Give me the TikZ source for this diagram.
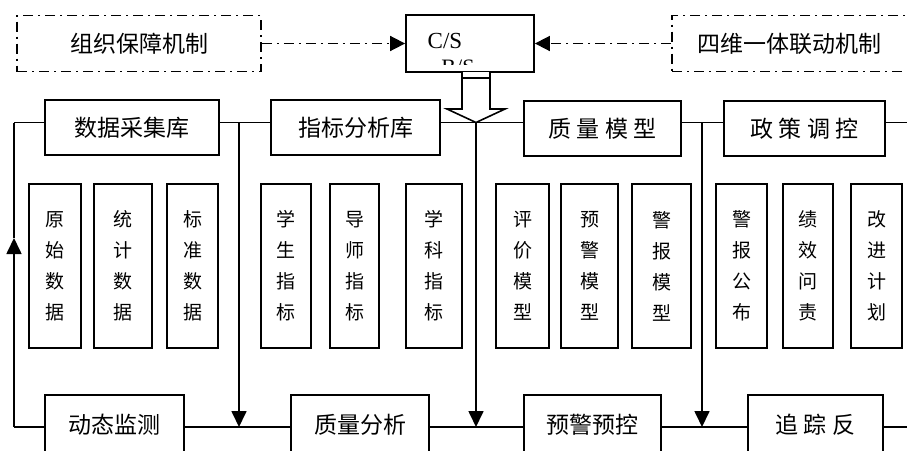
\documentclass[tikz,border=0pt]{standalone}
\usepackage{fontspec}
\setmainfont{Liberation Serif}
\newfontfamily\cjk{Noto Sans CJK SC}
\usetikzlibrary{arrows.meta,calc}
\begin{document}
\begin{tikzpicture}[x=1pt,y=-1pt,
  box/.style={draw,line width=1.8pt,inner sep=0pt,font=\cjk\fontsize{23}{27}\selectfont},
  vbox/.style={draw,line width=1.8pt,inner sep=0pt,minimum height=164pt,align=center,font=\cjk\fontsize{19}{31}\selectfont},
  ddbox/.style={draw,line width=1.8pt,dash pattern=on 10pt off 5pt on 2pt off 5pt,inner sep=0pt,minimum height=56pt,font=\cjk\fontsize{23}{27}\selectfont},
  conn/.style={line width=1.7pt},
  tipline/.style={conn,-{Triangle[length=16pt,width=15pt]}},
  ddarrow/.style={line width=1.7pt,dash pattern=on 10pt off 5pt on 2pt off 5pt,-{Triangle[length=15pt,width=15pt]}}
]
\useasboundingbox (0,0) rectangle (907,450);

% top dashed boxes and C/S
\node[ddbox,minimum width=244pt] (org) at (139,43.5) {组织保障机制};
\node[ddbox,minimum width=250pt] (four) at (797,43.5) {四维一体联动机制\hspace*{16pt}};
\node[draw,line width=1.8pt,minimum width=128pt,minimum height=57pt,inner sep=0pt] (cs) at (470,43.5) {};
\node[font=\fontsize{23}{27}\selectfont,anchor=base,inner sep=0pt] (cstext) at (445,48) {C/S};
\begin{scope}
  \clip ($(cs.north west)+(1,1)$) rectangle ($(cs.east)+(-1,20.5)$);
  \node[font=\fontsize{22}{26}\selectfont,anchor=north,inner sep=0pt] (bstext) at (458,60) {B/S};
\end{scope}
\draw[ddarrow] (org.east) -- (cs.west);
\draw[ddarrow] (four.west) -- (cs.east);

% top row
\node[box,minimum width=174pt,minimum height=55pt] (d1) at (132,127.5) {数据采集库};
\node[box,minimum width=169pt,minimum height=55pt] (d2) at (355.5,127.5) {指标分析库};
\node[box,minimum width=157pt,minimum height=55pt] (d3) at (602.5,128.5) {质 量 模 型};
\node[box,minimum width=161pt,minimum height=55pt] (d4) at (804.5,128.5) {政 策 调 控};

% bottom row
\node[box,minimum width=139pt,minimum height=60pt] (b1) at (114.5,425) {动态监测};
\node[box,minimum width=138pt,minimum height=60pt] (b2) at (360,425) {质量分析};
\node[box,minimum width=137pt,minimum height=60pt] (b3) at (592.5,425) {预警预控};
\node[box,minimum width=135pt,minimum height=60pt] (b4) at (815.5,425) {追 踪 反};

% vertical boxes
\node[vbox,minimum width=52pt] (v1) at (55,266) {原\\始\\数\\据};
\node[vbox,minimum width=58pt] (v2) at (123,266) {统\\计\\数\\据};
\node[vbox,minimum width=51pt] (v3) at (192.5,266) {标\\准\\数\\据};
\node[vbox,minimum width=50pt] (v4) at (286,266) {学\\生\\指\\标};
\node[vbox,minimum width=49pt] (v5) at (354.5,266) {导\\师\\指\\标};
\node[vbox,minimum width=56pt] (v6) at (434,266) {学\\科\\指\\标};
\node[vbox,minimum width=53pt] (v7) at (522.5,266) {评\\价\\模\\型};
\node[vbox,minimum width=57pt] (v8) at (589.5,266) {预\\警\\模\\型};
\node[vbox,minimum width=59pt] (v9) at (661.5,266) {警\\报\\模\\型};
\node[vbox,minimum width=51pt] (v10) at (741.5,266) {警\\报\\公\\布};
\node[vbox,minimum width=50pt] (v11) at (808,266) {绩\\效\\问\\责};
\node[vbox,minimum width=51pt] (v12) at (876.5,266) {改\\进\\计\\划};

% bus coordinates
\coordinate (tl) at (14,122.5);
\coordinate (tr) at (907,122.5);
\coordinate (bl) at (14,427);
\coordinate (br) at (907,427);
\coordinate (lm) at (14,238);
\coordinate (j1) at (239,122.5);
\coordinate (ht) at (476,122.5);
\coordinate (j3) at (702,122.5);

% top bus
\draw[conn] (tl -| d1.west) -- (tl);
\draw[conn] (d1.east |- tl) -- (d2.west |- tl);
\draw[conn] (d2.east |- tl) -- (d3.west |- tl);
\draw[conn] (d3.east |- tl) -- (d4.west |- tl);
\draw[conn] (d4.east |- tl) -- (tr);
% bottom bus
\draw[conn] (bl -| b1.west) -- (bl);
\draw[conn] (b1.east |- bl) -- (b2.west |- bl);
\draw[conn] (b2.east |- bl) -- (b3.west |- bl);
\draw[conn] (b3.east |- bl) -- (b4.west |- bl);
\draw[conn] (b4.east |- bl) -- (br);
% left return
\draw[tipline] (bl) -- (lm);
\draw[conn] (lm) -- (tl);
% down arrows
\draw[tipline] (j1) -- (j1 |- bl);
\draw[tipline] (ht) -- (ht |- bl);
\draw[tipline] (j3) -- (j3 |- bl);

% hollow arrow from C/S
\draw[line width=1.6pt,fill=white,line join=miter] (462,72) -- (462,109) -- (447,109) -- (ht) -- (505,109) -- (490,109) -- (490,72);
\draw[line width=1.6pt] (462,78) -- (490,78);
\end{tikzpicture}
\end{document}
